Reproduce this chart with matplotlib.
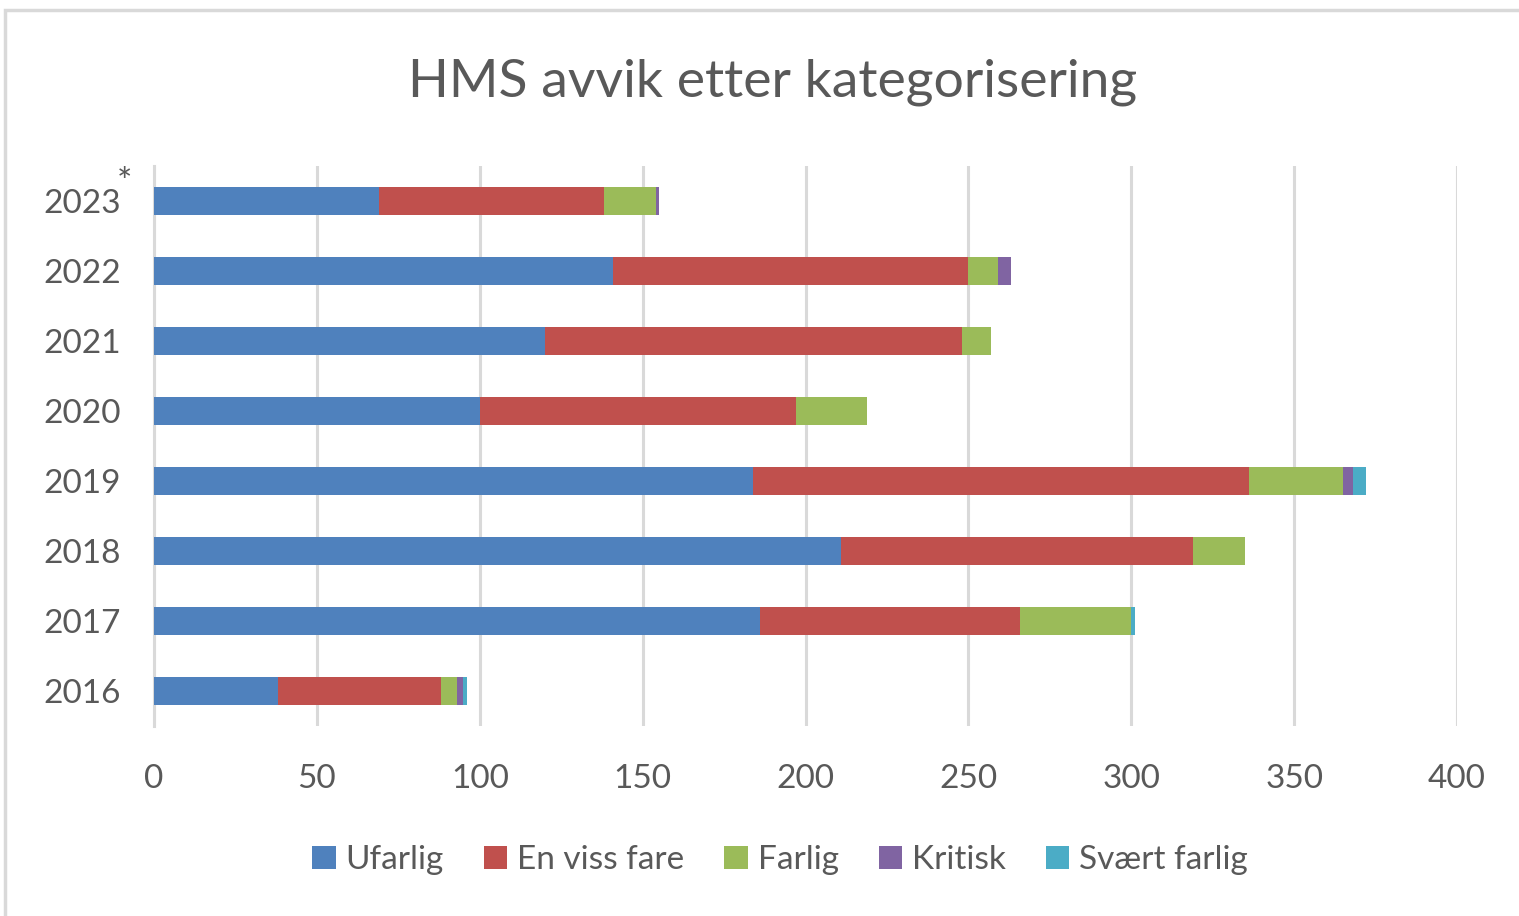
import matplotlib.pyplot as plt
import numpy as np
from matplotlib.patches import Rectangle

years = ['2016', '2017', '2018', '2019', '2020', '2021', '2022', '2023']
categories = ['Ufarlig', 'En viss fare', 'Farlig', 'Kritisk', 'Svært farlig']
ufarlig = [38, 186, 211, 184, 100, 120, 141, 69]
en_viss_fare = [50, 80, 108, 152, 97, 128, 109, 69]
farlig = [5, 34, 16, 29, 22, 9, 9, 16]
kritisk = [2, 0, 0, 3, 0, 0, 4, 1]
svaert_farlig = [1, 1, 0, 4, 0, 0, 0, 0]
xticks = [0, 50, 100, 150, 200, 250, 300, 350, 400]

colors = ['#4F81BD', '#C0504D', '#9BBB59', '#8064A2', '#4BACC6']
txt = '#595959'
plt.rcParams['font.family'] = ['Lato', 'DejaVu Sans']

fig = plt.figure(figsize=(15.19, 9.16), dpi=100)
fig.patches.append(Rectangle((5 / 1519, -0.01), 1.1, (916 - 10) / 916 + 0.01,
                             transform=fig.transFigure, fill=False,
                             edgecolor='#d9d9d9', linewidth=2.5))
ax = fig.add_axes([154 / 1519, 1 - 726 / 916, (1457 - 154) / 1519, (726 - 166) / 916])

y = np.arange(len(years))
left = np.zeros(len(years))
for vals, name, c in zip([ufarlig, en_viss_fare, farlig, kritisk, svaert_farlig], categories, colors):
    ax.barh(y, vals, left=left, height=0.4, color=c, label=name, zorder=3)
    left += np.array(vals)

ax.set_xlim(0, 400)
ax.set_ylim(-0.5, len(years) - 0.5)
ax.set_xticks(xticks)
ax.set_yticks(y)
ax.set_yticklabels(years)
ax.grid(axis='x', color='#d9d9d9', linewidth=2.2, zorder=0)
ax.set_axisbelow(True)
for s in ['top', 'right', 'bottom']:
    ax.spines[s].set_visible(False)
ax.spines['left'].set_color('#d9d9d9')
ax.spines['left'].set_linewidth(2.2)
ax.tick_params(axis='both', length=0, labelsize=24, labelcolor=txt)
ax.tick_params(axis='x', pad=27)
ax.tick_params(axis='y', pad=24)
ax.text(-9.0, 7.25, '*', fontsize=26, color=txt, ha='center', va='center')

fig.text(773 / 1519, 1 - 82 / 916, 'HMS avvik etter kategorisering', fontsize=38.5,
         color=txt, ha='center', va='center')
fig.legend(loc='center', bbox_to_anchor=(780 / 1519, 1 - 860 / 916), ncol=5,
           frameon=False, fontsize=24, labelcolor=txt, handlelength=0.7,
           handleheight=0.7, handletextpad=0.3, columnspacing=1.2)

fig.savefig('out.png', dpi=100)
